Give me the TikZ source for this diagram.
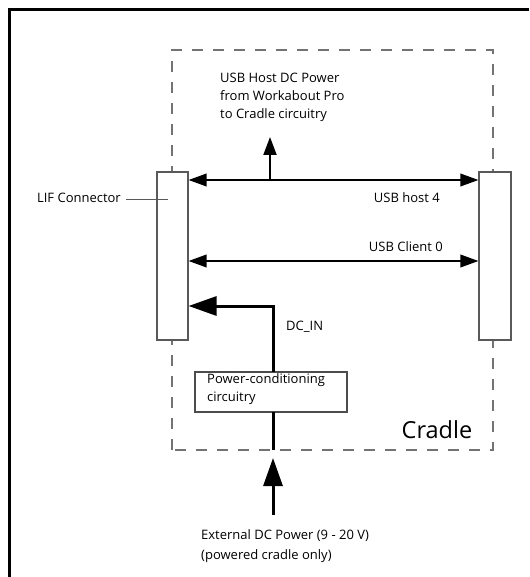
\documentclass[tikz,border=0pt]{standalone}
\usepackage{fontspec}
\setmainfont{Open Sans}
\usetikzlibrary{arrows.meta}
\tikzset{
  lbl/.style={inner sep=0pt, font=\fontsize{13}{18}\selectfont, align=left},
  conbox/.style={draw=black!65, line width=1.1pt, fill=white, minimum width=31, minimum height=168, inner sep=0pt},
  sig/.style={line width=2pt, {Triangle[length=18,width=12.5]}-{Triangle[length=18,width=12.5]}},
  pwr/.style={line width=3pt, -{Triangle[length=28,width=19]}},
  up/.style={line width=2pt, -{Triangle[length=18,width=13]}},
}
\begin{document}
\begin{tikzpicture}[x=1pt,y=-1pt]
\useasboundingbox (0,0) rectangle (529,577);
% outer frame (cropped on right and bottom)
\draw[line width=2.2pt] (9.5,577) -- (9.5,9.5) -- (529,9.5);
% cradle dashed boundary
\draw[black!55, line width=1.2pt, dash pattern=on 11 off 10] (172,450) -- (172,50) -- (493,50) -- (493,450) -- cycle;
% connector boxes
\node[conbox] (lif) at (172.5,256) {};
\node[conbox, minimum width=32] (rbox) at (495,256) {};
% power-conditioning box
\node[draw=black!70, line width=1.1pt, fill=white, minimum width=152, minimum height=40, inner sep=0pt] (pc) at (271,392) {};
\node[lbl, anchor=west] (pctxt) at (207,389) {Power-conditioning\\circuitry};
% coordinates
\coordinate (hy) at (0,180);
\coordinate (cy) at (0,261);
\coordinate (dy) at (273,306);
\coordinate (upbase) at (270,180);
\coordinate (uptip) at (270,137);
\coordinate (pcb) at (273,412);
\coordinate (pct) at (273,372);
\coordinate (dashbot) at (273,450);
\coordinate (extbase) at (273,515);
\coordinate (exttip) at (273,458);
\coordinate (lifpt) at (168,199);
% USB host 4
\draw[sig] (lif.east |- hy) -- (rbox.west |- hy);
\draw[up] (upbase) -- (uptip);
% USB client 0
\draw[sig] (lif.east |- cy) -- (rbox.west |- cy);
% DC_IN
\draw[pwr] (pct) -- (dy) -- (lif.east |- dy);
\draw[line width=3pt] (pcb) -- (dashbot);
% external
\draw[pwr] (extbase) -- (exttip);
% labels
\node[lbl, anchor=west] (hostpwr) at (220,97) {USB Host DC Power\\from Workabout Pro\\to Cradle circuitry};
\node[lbl, anchor=east] (host4) at (440,198) {USB host 4};
\node[lbl, anchor=east] (client0) at (443,247) {USB Client 0};
\node[lbl, anchor=east] (liflbl) at (121,198) {LIF Connector};
\draw[black!65, line width=1pt] (liflbl.east) ++(5,1) -- (lifpt);
\node[lbl, anchor=west] (dcin) at (286,327) {DC\_IN};
\node[inner sep=0pt, font=\fontsize{23.5}{27}\selectfont] (cradle) at (437,430) {Cradle};
\node[lbl, anchor=west, font=\fontsize{13}{20}\selectfont] (ext) at (201,546) {External DC Power (9 - 20 V)\\(powered cradle only)};
\end{tikzpicture}
\end{document}
